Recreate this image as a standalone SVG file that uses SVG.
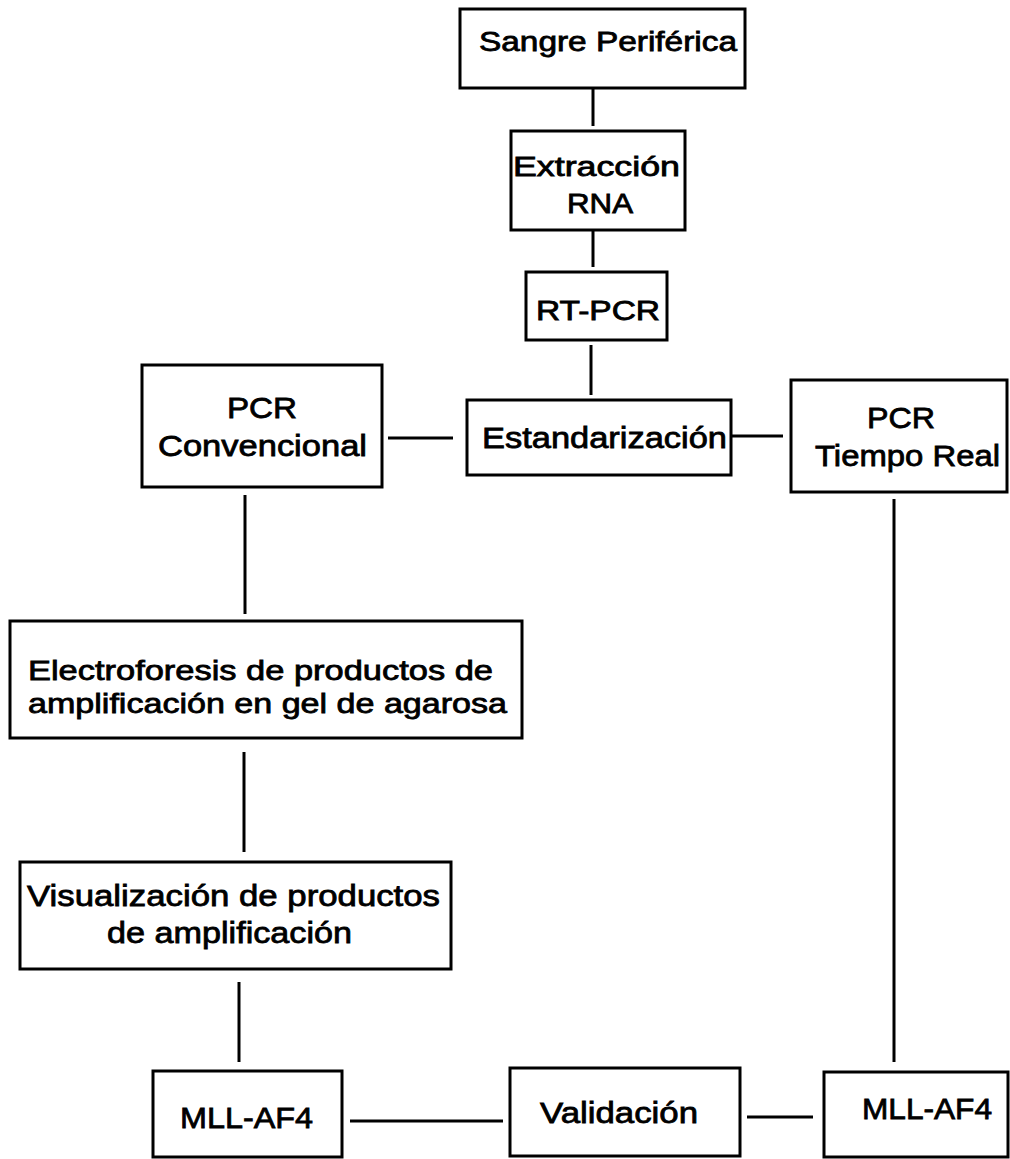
<svg xmlns="http://www.w3.org/2000/svg" width="1010" height="1159" viewBox="0 0 1010 1159">
<style>
.box{fill:#fff;stroke:#000;stroke-width:3}
.ln{stroke:#000;stroke-width:3;fill:none}
text{font-family:"Liberation Sans",Arial,sans-serif;fill:#000;stroke:#000;stroke-width:0.8}
.s26{font-size:27px}
.s29{font-size:30px}
.s28{font-size:28px}
</style>
<rect width="1010" height="1159" fill="#fff"/>
<g id="connectors">
<line class="ln" x1="593" y1="88" x2="593" y2="126"/>
<line class="ln" x1="593" y1="230" x2="593" y2="267"/>
<line class="ln" x1="591" y1="345" x2="591" y2="395"/>
<line class="ln" x1="388" y1="438" x2="453" y2="438"/>
<line class="ln" x1="731" y1="436" x2="783" y2="436"/>
<line class="ln" x1="245" y1="495" x2="245" y2="614"/>
<line class="ln" x1="244" y1="752" x2="244" y2="852"/>
<line class="ln" x1="239" y1="982" x2="239" y2="1062"/>
<line class="ln" x1="894" y1="499" x2="894" y2="1062"/>
<line class="ln" x1="350" y1="1121" x2="503" y2="1121"/>
<line class="ln" x1="747" y1="1117" x2="813" y2="1117"/>
</g>
<g id="n-sangre"><rect class="box" x="460" y="9" width="285" height="79"/><text class="s26" x="479" y="51" textLength="258" lengthAdjust="spacingAndGlyphs">Sangre Periférica</text></g>
<g id="n-extraccion"><rect class="box" x="511" y="131" width="174" height="99"/><text class="s26" x="513" y="176" textLength="167" lengthAdjust="spacingAndGlyphs">Extracción</text><text class="s26" x="567" y="213" textLength="66" lengthAdjust="spacingAndGlyphs">RNA</text></g>
<g id="n-rtpcr"><rect class="box" x="526" y="272" width="141" height="68"/><text class="s26" x="536" y="320" textLength="124" lengthAdjust="spacingAndGlyphs">RT-PCR</text></g>
<g id="n-pcrconv"><rect class="box" x="142" y="365" width="240" height="122"/><text class="s29" x="227" y="418" textLength="70" lengthAdjust="spacingAndGlyphs">PCR</text><text class="s29" x="158" y="456" textLength="209" lengthAdjust="spacingAndGlyphs">Convencional</text></g>
<g id="n-estandarizacion"><rect class="box" x="467" y="400" width="264" height="75"/><text class="s29" x="482" y="448" textLength="245" lengthAdjust="spacingAndGlyphs">Estandarización</text></g>
<g id="n-pcrtr"><rect class="box" x="791" y="380" width="216" height="112"/><text class="s29" x="867" y="428" textLength="68" lengthAdjust="spacingAndGlyphs">PCR</text><text class="s29" x="815" y="466" textLength="185" lengthAdjust="spacingAndGlyphs">Tiempo Real</text></g>
<g id="n-electroforesis"><rect class="box" x="10" y="621" width="512" height="117"/><text class="s28" x="28" y="680" textLength="465" lengthAdjust="spacingAndGlyphs">Electroforesis de productos de</text><text class="s28" x="28" y="713" textLength="479" lengthAdjust="spacingAndGlyphs">amplificación en gel de agarosa</text></g>
<g id="n-visualizacion"><rect class="box" x="20" y="862" width="431" height="107"/><text class="s29" x="27" y="906" textLength="413" lengthAdjust="spacingAndGlyphs">Visualización de productos</text><text class="s29" x="107" y="943" textLength="245" lengthAdjust="spacingAndGlyphs">de amplificación</text></g>
<g id="n-mll-left"><rect class="box" x="153" y="1071" width="189" height="86"/><text class="s29" x="180" y="1128" textLength="133" lengthAdjust="spacingAndGlyphs">MLL-AF4</text></g>
<g id="n-validacion"><rect class="box" x="510" y="1068" width="230" height="88"/><text class="s29" x="540" y="1123" textLength="158" lengthAdjust="spacingAndGlyphs">Validación</text></g>
<g id="n-mll-right"><rect class="box" x="824" y="1072" width="184" height="85"/><text class="s29" x="862" y="1119" textLength="130" lengthAdjust="spacingAndGlyphs">MLL-AF4</text></g>
</svg>
